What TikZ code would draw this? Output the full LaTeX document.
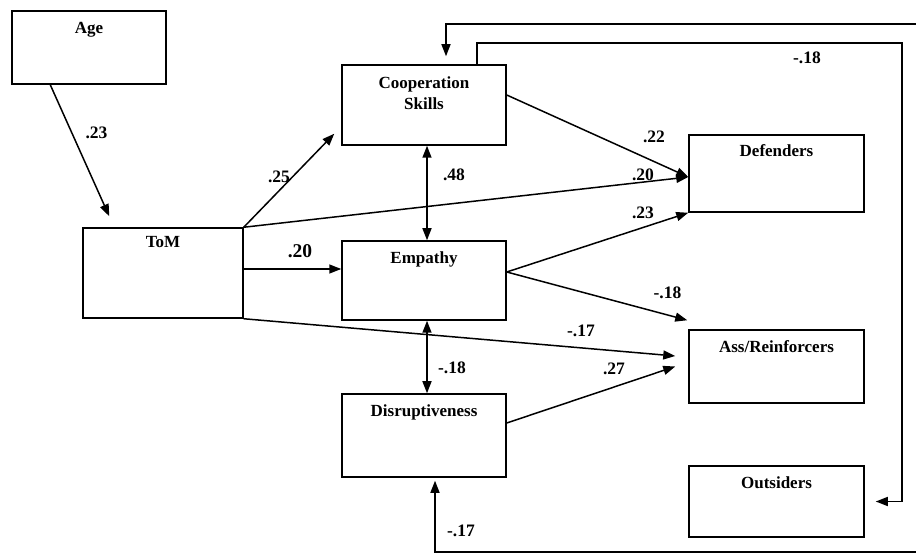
\documentclass[tikz,border=0pt]{standalone}
\usepackage{fontspec}
\setmainfont{Liberation Serif}
\usetikzlibrary{arrows.meta}

\begin{document}
\begin{tikzpicture}[x=1pt, y=-1pt, >={Triangle[length=12pt,width=9pt]},
    box/.style={draw, line width=1.5pt, inner sep=0pt},
    boxname/.style={font=\fontsize{17}{21}\selectfont\bfseries, anchor=north, align=center, inner sep=0pt},
    weight/.style={font=\fontsize{17.5}{20}\selectfont\bfseries, inner sep=0pt},
    link/.style={line width=1.5pt}]
  \useasboundingbox (0,0) rectangle (916,553);

  % the boxes
  \node[box, minimum width=154pt, minimum height=73pt] (age) at (89,47.5) {};
  \node[box, minimum width=160pt, minimum height=90pt] (tom) at (163,273) {};
  \node[box, minimum width=164pt, minimum height=80pt] (coop) at (424,105) {};
  \node[box, minimum width=164pt, minimum height=79pt] (emp) at (424,280.5) {};
  \node[box, minimum width=164pt, minimum height=83pt] (dis) at (424,435.5) {};
  \node[box, minimum width=175pt, minimum height=77pt] (def) at (776.5,173.5) {};
  \node[box, minimum width=175pt, minimum height=73pt] (ass) at (776.5,366.5) {};
  \node[box, minimum width=175pt, minimum height=71pt] (out) at (776.5,501.5) {};

  \node[boxname] (agetxt) at ([yshift=-12pt]age.north) {Age};
  \node[boxname] (tomtxt) at ([yshift=-9pt]tom.north) {ToM};
  \node[boxname] (cooptxt) at ([yshift=-12pt]coop.north) {Cooperation\\Skills};
  \node[boxname] (emptxt) at ([yshift=-11pt]emp.north) {Empathy};
  \node[boxname] (distxt) at ([yshift=-11pt]dis.north) {Disruptiveness};
  \node[boxname] (deftxt) at ([yshift=-10pt]def.north) {Defenders};
  \node[boxname] (asstxt) at ([yshift=-11pt]ass.north) {Ass/Reinforcers};
  \node[boxname] (outtxt) at ([yshift=-11pt]out.north) {Outsiders};

  % free ends at the edge of the page
  \coordinate (topR) at (916,24);
  \coordinate (botR) at (916,552);

  % paths
  \draw[link, ->] ([xshift=39pt]age.south west) -- ([xshift=27pt, yshift=11pt]tom.north west);
  \draw[link, ->] (tom.north east) -- ([xshift=-7pt, yshift=12pt]coop.south west);
  \draw[link, ->] ([yshift=4pt]tom.east) -- ([yshift=4pt]tom.east -| emp.west);
  \draw[link, ->] (tom.north east) -- ([yshift=-3.5pt]def.west);
  \draw[link, ->] (tom.south east) -- ([xshift=-13pt, yshift=10.5pt]ass.west);
  \draw[link, ->] ([yshift=10pt]coop.east) -- ([yshift=-3.5pt]def.west);
  \draw[link, ->] ([yshift=8.5pt]emp.east) -- (def.south west);
  \draw[link, ->] ([yshift=8.5pt]emp.east) -- ([xshift=-1pt, yshift=9pt]ass.north west);
  \draw[link, ->] ([yshift=12.5pt]dis.east) -- ([xshift=-13pt]ass.west);
  \draw[link, <->] ([xshift=3pt]coop.south) -- ([xshift=3pt]emp.north);
  \draw[link, <->] ([xshift=3pt]emp.south) -- ([xshift=3pt]dis.north);

  % feedback lines
  \draw[link, ->] ([xshift=53pt]coop.north) |- (902,43) |- ([xshift=11pt]out.east);
  \draw[link, ->] (topR) -| ([xshift=22pt, yshift=8pt]coop.north);
  \draw[link, ->] (botR) -| ([xshift=11pt, yshift=-3pt]dis.south);

  % weights
  \node[weight] (w1) at (96.5,133) {.23};
  \node[weight] (w2) at (279,177) {.25};
  \node[weight, font=\fontsize{19.5}{22}\selectfont\bfseries] (w3) at (300,251.5) {.20};
  \node[weight] (w4) at (454,175) {.48};
  \node[weight] (w5) at (452,368) {-.18};
  \node[weight] (w6) at (654,137) {.22};
  \node[weight] (w7) at (643,175) {.20};
  \node[weight] (w8) at (643,212.5) {.23};
  \node[weight] (w9) at (667.5,292.5) {-.18};
  \node[weight] (w10) at (581,330.5) {-.17};
  \node[weight] (w11) at (614,369) {.27};
  \node[weight] (w12) at (461,531) {-.17};
  \node[weight] (w13) at (807,57.5) {-.18};
\end{tikzpicture}
\end{document}
